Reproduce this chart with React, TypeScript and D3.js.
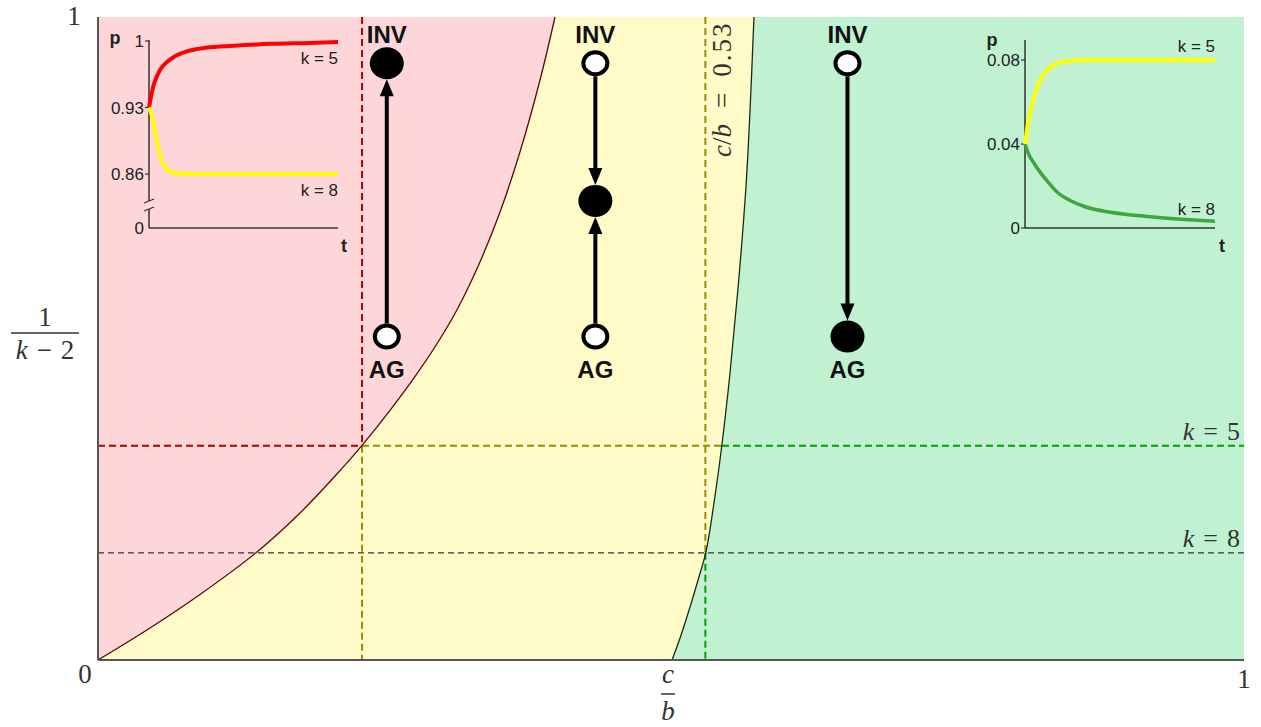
import React from "react";
import * as d3 from "d3";

// main plane: x = c/b, y = 1/(k-2)
const pinkYellowCb = [0, 0.0454, 0.089, 0.1387, 0.1763, 0.2112, 0.2304, 0.2548, 0.2784, 0.2984, 0.3141, 0.3333, 0.3508, 0.3682, 0.3857, 0.3988];
const pinkYellowInvK = [0, 0.0498, 0.1019, 0.168, 0.2286, 0.2946, 0.3339, 0.3883, 0.4454, 0.4992, 0.5474, 0.619, 0.6967, 0.79, 0.902, 1];
const yellowGreenCb = [0.5009, 0.5079, 0.5166, 0.5236, 0.5305, 0.5375, 0.5445, 0.5515, 0.5585, 0.5654, 0.5689, 0.5724];
const yellowGreenInvK = [0, 0.0342, 0.0824, 0.1244, 0.168, 0.2442, 0.3359, 0.4463, 0.5785, 0.7356, 0.8523, 1];

const k5Level = 1 / 3;
const k8Level = 1 / 6;
const k5Crossings = [0.2304, 0.5445];
const cbThreshold = 0.53;

// the three INV/AG dynamics diagrams
const diagramCb = [0.252, 0.434, 0.654];
const invFilled = [true, false, false];
const agFilled = [false, false, true];
const interiorPoint = [null, 0.714, null];
const invLevel = 0.928;
const agLevel = 0.503;

// left inset (pink region)
const leftT = [0, 0.02, 0.04, 0.06, 0.09, 0.13, 0.2, 0.3, 0.45, 0.65, 0.85, 1];
const leftK5 = [0.93, 0.95, 0.962, 0.97, 0.977, 0.983, 0.989, 0.993, 0.995, 0.997, 0.998, 0.999];
const leftK8 = [0.93, 0.918, 0.896, 0.879, 0.866, 0.861, 0.86, 0.86, 0.86, 0.86, 0.86, 0.86];
const leftTicks = [0.86, 0.93, 1];
const leftTickLabels = ["0.86", "0.93", "1"];

// right inset (green region)
const rightT = [0, 0.02, 0.05, 0.08, 0.12, 0.17, 0.24, 0.32, 0.45, 0.64, 0.82, 1];
const rightK5 = [0.04, 0.052, 0.063, 0.0705, 0.0755, 0.0785, 0.0796, 0.08, 0.08, 0.08, 0.08, 0.08];
const rightK8 = [0.04, 0.035, 0.0305, 0.0265, 0.022, 0.017, 0.013, 0.01, 0.0075, 0.0055, 0.0042, 0.0032];
const rightTicks = [0, 0.04, 0.08];
const rightTickLabels = ["0", "0.04", "0.08"];

const serif = "'Liberation Serif', 'DejaVu Serif', serif";
const sans = "'Liberation Sans', Arial, sans-serif";

export default function App() {
  const W = 1261;
  const H = 727;
  const x = d3.scaleLinear().domain([0, 1]).range([98, 1244]);
  const y = d3.scaleLinear().domain([0, 1]).range([660, 17]);

  const line = d3
    .line<[number, number]>()
    .x((d) => x(d[0]))
    .y((d) => y(d[1]))
    .curve(d3.curveCatmullRom.alpha(0.5));

  const pinkPts = d3.zip(pinkYellowCb, pinkYellowInvK) as [number, number][];
  const greenPts = d3.zip(yellowGreenCb, yellowGreenInvK) as [number, number][];

  const pinkPath = line(pinkPts) + `L${x(0)},${y(1)}Z`;
  const greenPath = line(greenPts) + `L${x(1)},${y(1)}L${x(1)},${y(0)}Z`;

  const dash = (x1: number, y1: number, x2: number, y2: number, color: string, w = 2, da = "7,4") => (
    <line x1={x(x1)} y1={y(y1)} x2={x(x2)} y2={y(y2)} stroke={color} strokeWidth={w} strokeDasharray={da} />
  );

  const red = "#b40000";
  const olive = "#978d00";
  const green = "#00a000";

  // left inset scales
  const lx = d3.scaleLinear().domain([0, 1]).range([149, 338]);
  const lyS = d3.scaleLinear().domain([0.86, 1]).range([174, 41]);
  const ly = (p: number) => (p < 0.5 ? 228 : lyS(p));
  const leftLine = d3
    .line<[number, number]>()
    .x((d) => lx(d[0]))
    .y((d) => ly(d[1]))
    .curve(d3.curveMonotoneX);

  // right inset scales
  const rx = d3.scaleLinear().domain([0, 1]).range([1025, 1215]);
  const ry = d3.scaleLinear().domain([0, 0.08]).range([228, 60]);
  const rightLine = d3
    .line<[number, number]>()
    .x((d) => rx(d[0]))
    .y((d) => ry(d[1]))
    .curve(d3.curveMonotoneX);

  const openRy = 11;
  const filledRy = 16;
  const arrow = (cx: number, yFrom: number, yTo: number, key: string) => {
    const dir = Math.sign(yTo - yFrom);
    return (
      <g key={key}>
        <line x1={cx} y1={yFrom} x2={cx} y2={yTo - dir * 12} stroke="#000" strokeWidth={4} />
        <polygon points={`${cx},${yTo} ${cx - 7},${yTo - dir * 17} ${cx + 7},${yTo - dir * 17}`} fill="#000" />
      </g>
    );
  };
  const node = (cx: number, cy: number, filled: boolean, key: string) =>
    filled ? (
      <ellipse key={key} cx={cx} cy={cy} rx={17} ry={filledRy} fill="#000" />
    ) : (
      <ellipse key={key} cx={cx} cy={cy} rx={12} ry={openRy} fill="#fff" stroke="#000" strokeWidth={4} />
    );

  return (
    <div style={{ position: "absolute", left: 0, top: 0 }}>
      <svg width={W} height={H} style={{ display: "block", background: "#fff" }}>
        {/* regions */}
        <rect x={x(0)} y={y(1)} width={x(1) - x(0)} height={y(0) - y(1)} fill="#fffbc9" />
        <path d={pinkPath} fill="#fdd6d9" />
        <path d={greenPath} fill="#c0f1d1" />

        {/* guide lines */}
        {dash(k5Crossings[0], 1, k5Crossings[0], k5Level, red)}
        {dash(k5Crossings[0], k5Level, k5Crossings[0], 0, olive)}
        {dash(0, k5Level, k5Crossings[0], k5Level, red)}
        {dash(k5Crossings[0], k5Level, k5Crossings[1], k5Level, olive)}
        {dash(k5Crossings[1], k5Level, 1, k5Level, green)}
        {dash(0, k8Level, 1, k8Level, "#333", 1.2, "6,4")}
        {dash(cbThreshold, 1, cbThreshold, k8Level, olive)}
        {dash(cbThreshold, k8Level, cbThreshold, 0, green)}

        {/* boundaries */}
        <path d={line(pinkPts) ?? ""} fill="none" stroke="#5a0808" strokeWidth={1.3} />
        <path d={line(greenPts) ?? ""} fill="none" stroke="#1c2a10" strokeWidth={1.3} />

        {/* axes */}
        <line x1={x(0)} y1={y(0)} x2={x(0)} y2={y(1)} stroke="#555" strokeWidth={2} />
        <line x1={x(0)} y1={y(0)} x2={x(1)} y2={y(0)} stroke="#555" strokeWidth={2} />

        <g fontFamily={serif} fill="#333" fontSize={27}>
          <text x={74} y={25} textAnchor="middle">1</text>
          <text x={85} y={683} textAnchor="middle">0</text>
          <text x={x(1)} y={688} textAnchor="middle">1</text>
          {/* y title */}
          <text x={45} y={326} textAnchor="middle">1</text>
          <line x1={11} y1={333} x2={79} y2={333} stroke="#333" strokeWidth={1.5} />
          <text x={45} y={359} textAnchor="middle">
            <tspan fontStyle="italic">k</tspan>
            <tspan dx={9}>−</tspan>
            <tspan dx={9}>2</tspan>
          </text>
          {/* x title */}
          <text x={x(0.5) - 3} y={683} textAnchor="middle" fontStyle="italic">c</text>
          <line x1={x(0.5) - 10} y1={694} x2={x(0.5) + 4} y2={694} stroke="#333" strokeWidth={1.5} />
          <text x={x(0.5) - 3} y={720} textAnchor="middle" fontStyle="italic">b</text>
          {/* k labels */}
          <text x={1240} y={440} textAnchor="end" fontSize={26}>
            <tspan fontStyle="italic">k</tspan>
            <tspan dx={9}>=</tspan>
            <tspan dx={9}>5</tspan>
          </text>
          <text x={1240} y={547} textAnchor="end" fontSize={26}>
            <tspan fontStyle="italic">k</tspan>
            <tspan dx={9}>=</tspan>
            <tspan dx={9}>8</tspan>
          </text>
          <text transform={`translate(${x(cbThreshold) + 26},157) rotate(-90)`} fontSize={27}>
            <tspan fontStyle="italic">c</tspan>
            <tspan>/</tspan>
            <tspan fontStyle="italic">b</tspan>
            <tspan dx={16}>=</tspan>
            <tspan dx={16} letterSpacing={2}>0.53</tspan>
          </text>
        </g>

        {/* dynamics diagrams */}
        {diagramCb.map((cb, i) => {
          const cx = x(cb);
          const yInv = y(invLevel);
          const yAg = y(agLevel);
          const mid = interiorPoint[i];
          const invOff = invFilled[i] ? filledRy : openRy + 2;
          const agOff = agFilled[i] ? filledRy : openRy + 2;
          const parts: React.ReactNode[] = [];
          if (mid !== null) {
            const ym = y(mid);
            parts.push(arrow(cx, yInv + invOff, ym - filledRy, "a1"));
            parts.push(arrow(cx, yAg - agOff, ym + filledRy, "a2"));
          } else if (invFilled[i]) {
            parts.push(arrow(cx, yAg - agOff, yInv + invOff, "a1"));
          } else {
            parts.push(arrow(cx, yInv + invOff, yAg - agOff, "a1"));
          }
          return (
            <g key={i}>
              {parts}
              {node(cx, yInv, invFilled[i], "inv")}
              {node(cx, yAg, agFilled[i], "ag")}
              {mid !== null && node(cx, y(mid), true, "mid")}
              <text x={cx} y={43} textAnchor="middle" fontFamily={sans} fontWeight="bold" fontSize={24} fill="#111">INV</text>
              <text x={cx} y={yAg + 41} textAnchor="middle" fontFamily={sans} fontWeight="bold" fontSize={24} fill="#111">AG</text>
            </g>
          );
        })}

        {/* left inset */}
        <g fontFamily={sans} fontSize={17} fill="#222">
          <line x1={149} y1={40} x2={149} y2={201} stroke="#333" strokeWidth={1.5} />
          <line x1={149} y1={209} x2={149} y2={228} stroke="#333" strokeWidth={1.5} />
          <line x1={144} y1={203} x2={154} y2={199} stroke="#333" strokeWidth={1.2} />
          <line x1={144} y1={211} x2={154} y2={207} stroke="#333" strokeWidth={1.2} />
          <line x1={149} y1={228} x2={lx(1)} y2={228} stroke="#333" strokeWidth={1.5} />
          {leftTicks.map((t, i) => (
            <g key={i}>
              <line x1={145} y1={ly(t)} x2={149} y2={ly(t)} stroke="#333" strokeWidth={1.2} />
              <text x={144} y={ly(t) + 6} textAnchor="end">{leftTickLabels[i]}</text>
            </g>
          ))}
          <text x={144} y={234} textAnchor="end">0</text>
          <path d={leftLine(d3.zip(leftT, leftK5) as [number, number][]) ?? ""} fill="none" stroke="#ff0000" strokeWidth={4} />
          <path d={leftLine(d3.zip(leftT, leftK8) as [number, number][]) ?? ""} fill="none" stroke="#ffff00" strokeWidth={4} />
          <text x={lx(1)} y={64} textAnchor="end">k = 5</text>
          <text x={lx(1)} y={196} textAnchor="end">k = 8</text>
          <text x={115} y={44} textAnchor="middle" fontWeight="bold" fontSize={18}>p</text>
          <text x={344} y={252} textAnchor="middle" fontWeight="bold" fontSize={18}>t</text>
        </g>

        {/* right inset */}
        <g fontFamily={sans} fontSize={17} fill="#222">
          <line x1={1025} y1={40} x2={1025} y2={228} stroke="#333" strokeWidth={1.5} />
          <line x1={1025} y1={228} x2={rx(1)} y2={228} stroke="#333" strokeWidth={1.5} />
          {rightTicks.map((t, i) => (
            <g key={i}>
              <line x1={1021} y1={ry(t)} x2={1025} y2={ry(t)} stroke="#333" strokeWidth={1.2} />
              <text x={1020} y={ry(t) + 6} textAnchor="end">{rightTickLabels[i]}</text>
            </g>
          ))}
          <path d={rightLine(d3.zip(rightT, rightK8) as [number, number][]) ?? ""} fill="none" stroke="#3fa63f" strokeWidth={3.5} />
          <path d={rightLine(d3.zip(rightT, rightK5) as [number, number][]) ?? ""} fill="none" stroke="#ffff00" strokeWidth={4} />
          <text x={rx(1)} y={52} textAnchor="end">k = 5</text>
          <text x={rx(1)} y={215} textAnchor="end">k = 8</text>
          <text x={992} y={46} textAnchor="middle" fontWeight="bold" fontSize={18}>p</text>
          <text x={1222} y={252} textAnchor="middle" fontWeight="bold" fontSize={18}>t</text>
        </g>
      </svg>
    </div>
  );
}
